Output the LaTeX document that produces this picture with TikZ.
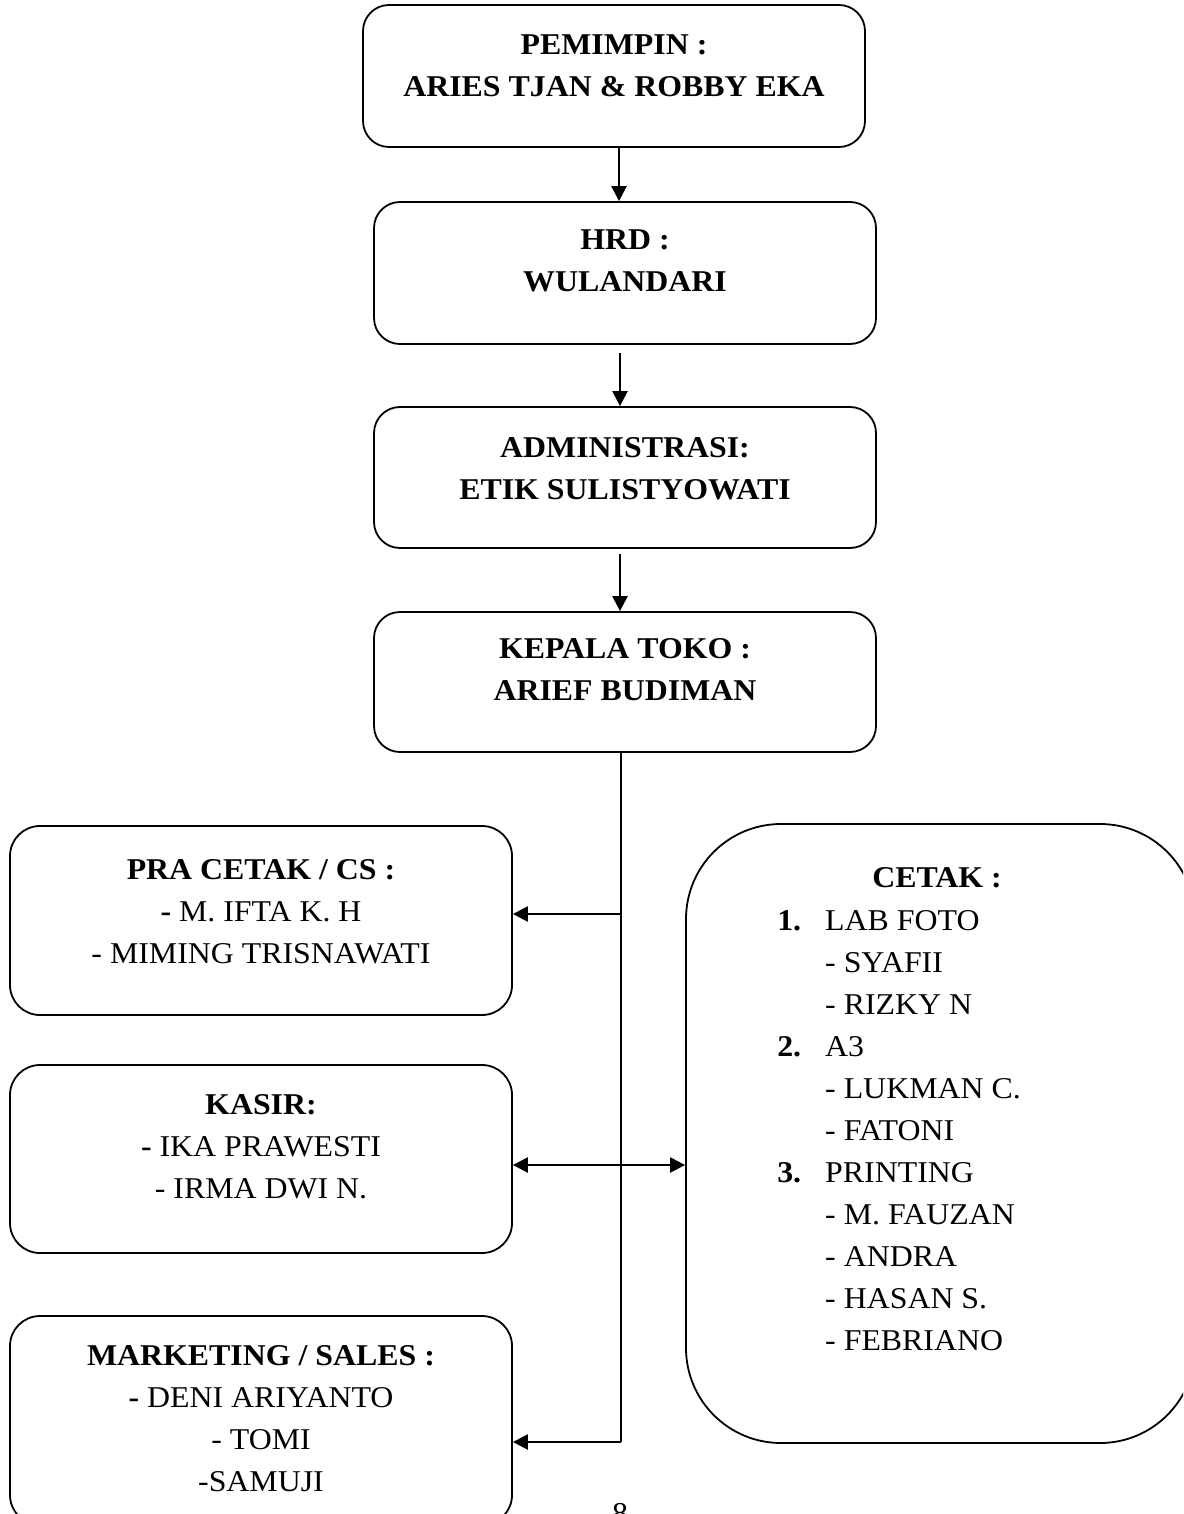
\documentclass[tikz,border=0pt]{standalone}
\usepackage{fontspec}
\setmainfont{Liberation Serif}[FakeStretch=1.055]
\usetikzlibrary{arrows.meta}
\begin{document}
\begin{tikzpicture}[x=1pt,y=-1pt,
  box/.style={draw, line width=1.8pt, rounded corners=26pt, inner sep=0pt, minimum width=502pt},
  txt/.style={font=\fontsize{30.2}{42}\selectfont, align=center, inner sep=0pt, anchor=north},
  conn/.style={line width=2.4pt},
  arr/.style={conn, -{Triangle[length=15pt,width=15pt]}},
  darr/.style={conn, {Triangle[length=15pt,width=15pt]}-{Triangle[length=15pt,width=15pt]}}
]
\useasboundingbox (0,0) rectangle (1183,1514);
\clip (0,0) rectangle (1183,1514);

% boxes
\node[box, minimum height=142pt] (b1) at (614,76) {};
\node[box, minimum height=142pt] (b2) at (625,273) {};
\node[box, minimum height=141pt] (b3) at (625,477.5) {};
\node[box, minimum height=140pt] (b4) at (625,682) {};
\node[box, rounded corners=30pt, minimum height=189pt] (b5) at (261,920.5) {};
\node[box, rounded corners=30pt, minimum height=188pt] (b6) at (261,1159) {};
\node[box, rounded corners=30pt, minimum height=209pt] (b7) at (261,1420.5) {};
\node[box, rounded corners=95pt, minimum width=509pt, minimum height=619pt] (b8) at (940.5,1133.5) {};

% texts
\node[txt] (t1) at (614,35) {\textbf{PEMIMPIN :}\\\textbf{ARIES TJAN \& ROBBY EKA}};
\node[txt] (t2) at (625,230) {\textbf{HRD :}\\\textbf{WULANDARI}};
\node[txt] (t3) at (625,437) {\textbf{ADMINISTRASI:}\\\textbf{ETIK SULISTYOWATI}};
\node[txt] (t4) at (625,638) {\textbf{KEPALA TOKO :}\\\textbf{ARIEF BUDIMAN}};
\node[txt] (t5) at (261,859) {\textbf{PRA CETAK / CS :}\\\textbf{-} M. IFTA K. H\\- MIMING TRISNAWATI};
\node[txt] (t6) at (261,1094) {\textbf{KASIR:}\\\textbf{-} IKA PRAWESTI\\- IRMA DWI N.};
\node[txt] (t7) at (261,1345) {\textbf{MARKETING / SALES :}\\\textbf{-} DENI ARIYANTO\\- TOMI\\-SAMUJI};
\node[txt] (t8) at (937,867) {\textbf{CETAK :}};
\node[txt, align=left, anchor=north west] (t9) at (825,910) {%
\llap{\textbf{1.}\hspace{24pt}}LAB FOTO\\
- SYAFII\\
- RIZKY N\\
\llap{\textbf{2.}\hspace{24pt}}A3\\
- LUKMAN C.\\
- FATONI\\
\llap{\textbf{3.}\hspace{24pt}}PRINTING\\
- M. FAUZAN\\
- ANDRA\\
- HASAN S.\\
- FEBRIANO};
\node[txt] (pg) at (620,1503) {8};

% connectors
\coordinate (j1) at (621,914);
\coordinate (j3) at (621,1442);
\coordinate (k) at (600,1165);
\draw[arr] (619,0 |- b1.south) -- (619,0 |- b2.north);
\draw[arr, shorten <=8pt] (620,0 |- b2.south) -- (620,0 |- b3.north);
\draw[arr, shorten <=5pt] (620,0 |- b3.south) -- (620,0 |- b4.north);
\draw[conn] (j1 |- b4.south) -- (j3);
\draw[arr] (j1) -- (j1 -| b5.east);
\draw[arr] (j3) -- (j3 -| b7.east);
\draw[darr] (k -| b6.east) -- (k -| b8.west);
\end{tikzpicture}
\end{document}
